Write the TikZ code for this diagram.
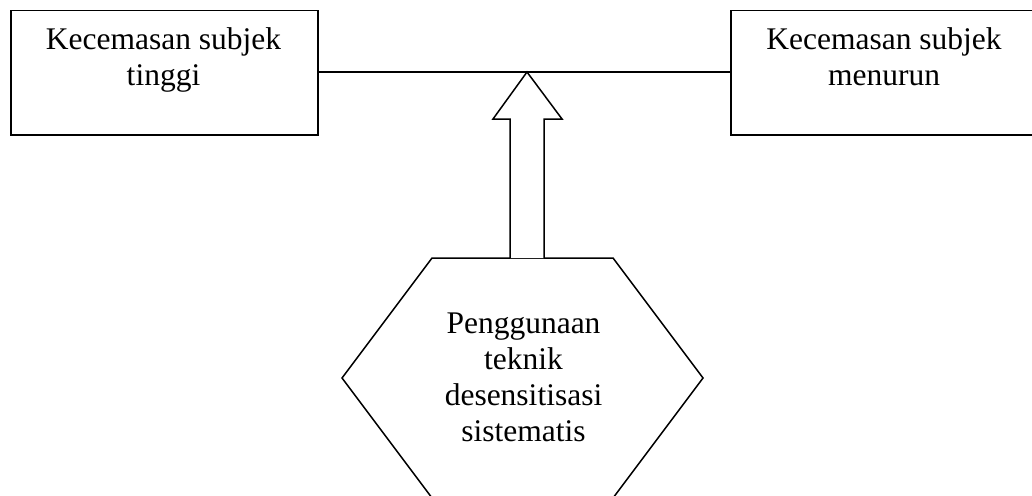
\documentclass[tikz,border=0pt]{standalone}
\usepackage{fontspec}
\setmainfont{Liberation Serif}
\begin{document}
\begin{tikzpicture}[x=1pt,y=-1pt,
  line width=1.5pt,
  boxshape/.style={draw,black,line width=1.5pt,minimum width=307pt,minimum height=124pt,inner sep=0pt,anchor=north west},
  lbl/.style={align=center,inner sep=0pt,anchor=north,font=\fontsize{31.5}{36}\selectfont},
]
\useasboundingbox (0,0) rectangle (1032,495);
\clip (0,0) rectangle (1032,495);
\fill[white] (0,0) rectangle (1032,495);
% boxes
\node[boxshape] (lbox) at (10,10) {};
\node[boxshape,minimum width=308pt] (rbox) at (730,10) {};
\node[lbl] (ltext) at (163.5,27) {Kecemasan subjek\\tinggi};
\node[lbl] (rtext) at (884,27) {Kecemasan subjek\\menurun};
% connector line
\coordinate (ljoin) at (lbox.east |- 0,72);
\coordinate (rjoin) at (rbox.west |- 0,72);
\draw (ljoin) -- (rjoin);
% hexagon
\coordinate (hc) at (522.5,378);
\draw[line join=miter] (432,258) -- (613,258) -- (703,378) -- (613,498) -- (432,498) -- (342,378) -- cycle;
\node[lbl] (htext) at (523.5,312.5) {Penggunaan\\teknik\\desensitisasi\\sistematis};
% block arrow
\coordinate (tip) at (527,72);
\draw[line join=miter,fill=white] (510,258) -- (510,119) -- (493,119) -- (tip) -- (562,119) -- (544,119) -- (544,258);
\end{tikzpicture}
\end{document}
